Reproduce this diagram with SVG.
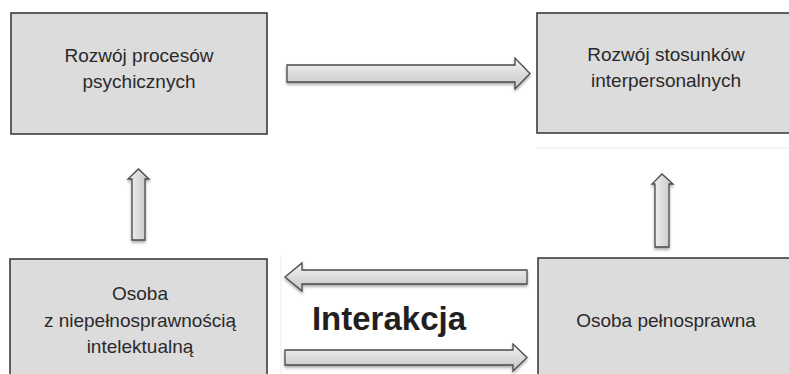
<svg xmlns="http://www.w3.org/2000/svg" width="789" height="374" viewBox="0 0 789 374">
<defs>
<linearGradient id="gh" x1="0" y1="0" x2="0" y2="1">
<stop offset="0" stop-color="#f4f4f4"/><stop offset="1" stop-color="#c4c4c4"/>
</linearGradient>
<linearGradient id="gv" x1="0" y1="0" x2="1" y2="0">
<stop offset="0" stop-color="#f4f4f4"/><stop offset="1" stop-color="#c4c4c4"/>
</linearGradient>
<filter id="sh" x="-10%" y="-30%" width="120%" height="170%">
<feGaussianBlur in="SourceAlpha" stdDeviation="1.5"/>
<feOffset dx="0" dy="2" result="b"/>
<feComponentTransfer><feFuncA type="linear" slope="0.35"/></feComponentTransfer>
<feMerge><feMergeNode/><feMergeNode in="SourceGraphic"/></feMerge>
</filter>
</defs>
<style>
.box{fill:#dcdcdd;stroke:#3c3c3c;stroke-width:1.6}
.t{font-family:"Liberation Sans",Arial,sans-serif;font-size:19px;fill:#2a2a2a;text-anchor:middle}
.ah{fill:url(#gh);stroke:#4a4a4a;stroke-width:1.3;filter:url(#sh)}
.av{fill:url(#gv);stroke:#4a4a4a;stroke-width:1.3;filter:url(#sh)}
</style>
<rect width="789" height="374" fill="#ffffff"/>
<line x1="537" y1="148" x2="789" y2="148" stroke="#f0f0f0" stroke-width="1.5"/>
<line x1="281" y1="255" x2="281" y2="374" stroke="#f2f2f2" stroke-width="1.5"/>
<g id="n1">
<rect class="box" x="11" y="13" width="256" height="121"/>
<text class="t" x="139" y="62">Rozwój procesów</text>
<text class="t" x="139" y="88">psychicznych</text>
</g>
<g id="n2">
<rect class="box" x="537" y="13" width="262" height="120"/>
<text class="t" x="666" y="61">Rozwój stosunków</text>
<text class="t" x="666" y="87">interpersonalnych</text>
</g>
<g id="n3">
<rect class="box" x="10" y="259" width="257" height="130"/>
<text class="t" x="140" y="300">Osoba</text>
<text class="t" x="140" y="327">z niepełnosprawnością</text>
<text class="t" x="140" y="353">intelektualną</text>
</g>
<g id="n4">
<rect class="box" x="538" y="258" width="262" height="130"/>
<text class="t" x="666" y="327">Osoba pełnosprawna</text>
</g>
<g id="label">
<text x="389" y="330" font-family="Liberation Sans,Arial,sans-serif" font-size="33" font-weight="bold" fill="#231f20" text-anchor="middle">Interakcja</text>
</g>
<g id="connectors">
<polygon class="ah" points="287,65 515,65 515,58 530,73.5 515,89 515,82 287,82"/>
<polygon class="ah" points="527,270 302,270 302,263 285,277 302,291 302,284 527,284"/>
<polygon class="ah" points="285,350 513,350 513,344 527,357.5 513,371 513,365 285,365"/>
<polygon class="av" points="132,240 132,179 128,179 138.5,169 149,179 145,179 145,240"/>
<polygon class="av" points="655,247 655,184 652,184 662,174 673,184 669,184 669,247"/>
</g>
</svg>
